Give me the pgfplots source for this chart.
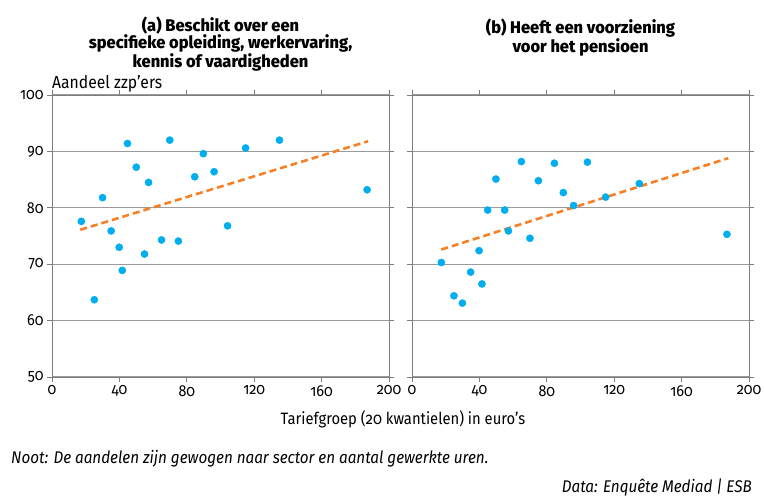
\documentclass[border=0pt]{standalone}
\usepackage{fontspec}
\setmainfont{Fira Sans}[Numbers=OldStyle, FakeStretch=0.9]
\newfontfamily\titlefont{Fira Sans ExtraBold}[Numbers=OldStyle, FakeStretch=0.97]
\usepackage{pgfplots}
\pgfplotsset{compat=1.18}
\definecolor{dotblue}{RGB}{0,174,239}
\definecolor{trendorange}{RGB}{245,128,37}
\definecolor{axgray}{RGB}{125,125,125}
\definecolor{gridgray}{RGB}{155,155,155}
\pgfplotsset{panel/.style={
  scale only axis, width=337bp, height=282bp,
  xmin=0, xmax=200, ymin=50, ymax=100,
  xtick={0,40,...,200}, ytick={50,60,...,100},
  ymajorgrids, major grid style={gridgray, line width=1.2bp},
  axis line style={axgray, line width=1bp},
  tick style={axgray, line width=1bp},
  tick align=outside, major tick length=5bp,
  /pgf/number format/assume math mode=true,
  ticklabel style={font=\fontsize{16}{17}\selectfont, text=black},
  clip=false,
}}
\pgfplotstableread{
x y
17.4 77.6
25.1 63.7
30.0 81.8
35.1 75.9
39.9 73.0
41.7 68.9
44.8 91.4
50.0 87.2
54.9 71.8
57.3 84.5
65.0 74.3
69.9 92.0
75.0 74.1
84.7 85.5
89.8 89.6
96.2 86.4
104.2 76.8
114.9 90.6
135.0 92.0
187.0 83.2
}\dataA
\pgfplotstableread{
x y
17.4 70.3
24.9 64.4
29.9 63.1
34.8 68.6
39.8 72.4
41.5 66.5
44.9 79.6
49.8 85.1
55.0 79.6
57.2 75.9
64.9 88.2
70.0 74.6
75.0 84.8
84.5 87.9
89.8 82.7
95.9 80.4
104.1 88.1
114.9 81.9
134.9 84.3
186.9 75.3
}\dataB
\begin{document}
\begin{tikzpicture}[x=1bp,y=1bp]
\path[use as bounding box] (0,0) rectangle (764,-497);
\begin{axis}[panel, at={(52bp,-377bp)}, anchor=south west]
\addplot[trendorange, line width=2.6bp, dash pattern=on 7bp off 4bp] coordinates {(16.8,76.1) (187.6,91.8)};
\addplot[only marks, mark=*, mark size=3.6bp, mark options={draw=dotblue, fill=dotblue}] table {\dataA};
\end{axis}
\begin{axis}[panel, at={(412bp,-377bp)}, anchor=south west, yticklabels={}]
\addplot[trendorange, line width=2.6bp, dash pattern=on 7bp off 4bp] coordinates {(17.4,72.6) (187.7,88.8)};
\addplot[only marks, mark=*, mark size=3.6bp, mark options={draw=dotblue, fill=dotblue}] table {\dataB};
\end{axis}
\node[anchor=north, align=center, inner sep=0pt, font=\titlefont\fontsize{17}{17}\selectfont] at (220.5,-17) {(a) Beschikt over een\\specifieke opleiding, werkervaring,\\kennis of vaardigheden};
\node[anchor=north, align=center, inner sep=0pt, font=\titlefont\fontsize{17}{17.5}\selectfont] at (580.5,-19) {(b) Heeft een voorziening\\voor het pensioen};
\node[anchor=base west, inner sep=0pt, font=\fontsize{17.5}{18}\selectfont] at (52,-88.5) {Aandeel zzp'ers};
\node[anchor=base, inner sep=0pt, font=\fontsize{16.5}{18}\selectfont] at (403,-424) {Tariefgroep (20 kwantielen) in euro’s};
\node[anchor=base west, inner sep=0pt, font=\itshape\fontsize{17}{18}\selectfont] at (11,-463) {Noot: De aandelen zijn gewogen naar sector en aantal gewerkte uren.};
\node[anchor=base east, inner sep=0pt, font=\itshape\fontsize{17}{18}\selectfont] at (752,-492) {Data: Enquête Mediad | ESB};
\end{tikzpicture}
\end{document}
